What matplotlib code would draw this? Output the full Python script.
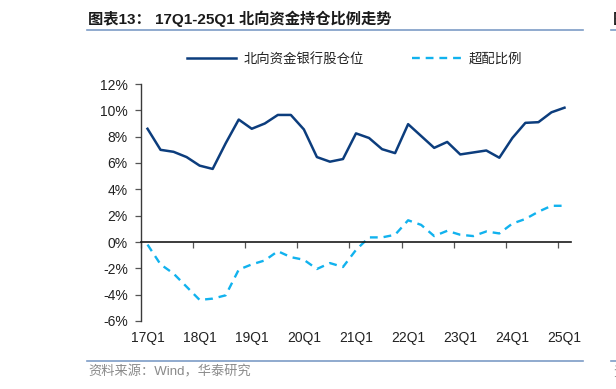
import matplotlib
matplotlib.use("Agg")
import matplotlib.pyplot as plt
from matplotlib.lines import Line2D
from matplotlib.ticker import FuncFormatter, FixedLocator

plt.rcParams['font.family'] = ['Liberation Sans', 'Noto Sans CJK SC', 'DejaVu Sans']
plt.rcParams['axes.unicode_minus'] = False

# ---- data ----
quarters = ['17Q1', '17Q2', '17Q3', '17Q4', '18Q1', '18Q2', '18Q3', '18Q4',
            '19Q1', '19Q2', '19Q3', '19Q4', '20Q1', '20Q2', '20Q3', '20Q4',
            '21Q1', '21Q2', '21Q3', '21Q4', '22Q1', '22Q2', '22Q3', '22Q4',
            '23Q1', '23Q2', '23Q3', '23Q4', '24Q1', '24Q2', '24Q3', '24Q4',
            '25Q1']
bank_position = [8.6, 7.0, 6.85, 6.45, 5.8, 5.55, 7.5, 9.3,
                 8.6, 9.0, 9.65, 9.65, 8.55, 6.45, 6.1, 6.3,
                 8.25, 7.9, 7.05, 6.75, 8.95, 8.05, 7.15, 7.6,
                 6.65, 6.8, 6.95, 6.4, 7.9, 9.05, 9.1, 9.85,
                 10.2]
overweight = [-0.2, -1.7, -2.4, -3.4, -4.4, -4.3, -4.05, -2.1,
              -1.7, -1.4, -0.7, -1.15, -1.35, -2.05, -1.6, -1.9,
              -0.6, 0.35, 0.35, 0.55, 1.65, 1.3, 0.45, 0.85,
              0.55, 0.45, 0.8, 0.65, 1.4, 1.75, 2.3, 2.75,
              2.75]
series_names = ['北向资金银行股仓位', '超配比例']
title = '图表13： 17Q1-25Q1 北向资金持仓比例走势'
source = '资料来源：Wind，华泰研究'
yticks = [-6, -4, -2, 0, 2, 4, 6, 8, 10, 12]

dark = '#0c3d7d'
light = '#11b2ee'

fig = plt.figure(figsize=(6.16, 3.89), dpi=100)
ax = fig.add_axes([141/616, 1-321/389, 430/616, 237/389])

x = list(range(len(quarters)))
l1, = ax.plot(x, bank_position, color=dark, lw=1.8, solid_joinstyle='round')
l2, = ax.plot(x, overweight, color=light, lw=1.7, dashes=(3.3, 2.5),
              dash_capstyle='butt')

ax.set_xlim(-0.5, len(quarters) - 0.5)
ax.set_ylim(-6, 12)
ax.yaxis.set_major_locator(FixedLocator(yticks))
ax.yaxis.set_major_formatter(FuncFormatter(lambda v, p: f'{int(round(v))}%'))

for s in ['top', 'right']:
    ax.spines[s].set_visible(False)
ax.spines['bottom'].set_position(('data', 0))
ax.spines['bottom'].set_color('#1a1a1a')
ax.spines['left'].set_color('#3a3a3a')
ax.spines['bottom'].set_linewidth(1.2)
ax.spines['left'].set_linewidth(1.0)

# ticks on category boundaries every 4 quarters, labels at category centres
ax.set_xticks([i - 0.5 for i in range(0, len(quarters), 4)])
ax.set_xticklabels([])
ax.tick_params(axis='x', direction='out', length=4, width=0.9, color='#555555')
ax.tick_params(axis='y', direction='out', length=4, width=0.9, color='#555555',
               labelsize=10, labelcolor='#222222', pad=5.5)
for i in range(0, len(quarters), 4):
    ax.text(i, -6.75, quarters[i], ha='center', va='top', fontsize=10,
            color='#222222', transform=ax.transData)

fig.legend([l1, l2], series_names, loc='center', ncol=2,
           bbox_to_anchor=(354.5/616, 1-59/389), frameon=False,
           prop={'family': ['Noto Sans CJK SC'], 'size': 9.6},
           handlelength=3.7, handletextpad=0.55, columnspacing=3.6,
           labelcolor='#222222')

# title and rules
fig.text(88/616, 1-19/389, title, ha='left', va='center', fontsize=11,
         fontweight='bold', color='#1a1a1a',
         family=['Liberation Sans', 'Noto Sans CJK SC'])
fig.add_artist(Line2D([87/616, 583/616], [1-30/389, 1-30/389], color='#7d9cc6', lw=1.2))
fig.add_artist(Line2D([611/616, 1.0], [1-30/389, 1-30/389], color='#7d9cc6', lw=1.2))
fig.text(613/616, 1-19/389, '图', ha='left', va='center', fontsize=11,
         fontweight='bold', color='#1a1a1a', family=['Noto Sans CJK SC'])

fig.add_artist(Line2D([87/616, 583/616], [1-361/389, 1-361/389], color='#7d9cc6', lw=1.2))
fig.add_artist(Line2D([611/616, 1.0], [1-361/389, 1-361/389], color='#7d9cc6', lw=1.2))
fig.text(88/616, 1-372/389, source, ha='left', va='center', fontsize=9.5,
         color='#8a8a8a', family=['Liberation Sans', 'Noto Sans CJK SC'])
fig.text(613/616, 1-372/389, '资', ha='left', va='center', fontsize=9.5,
         color='#8a8a8a', family=['Noto Sans CJK SC'])

fig.savefig('out.png', dpi=100)
